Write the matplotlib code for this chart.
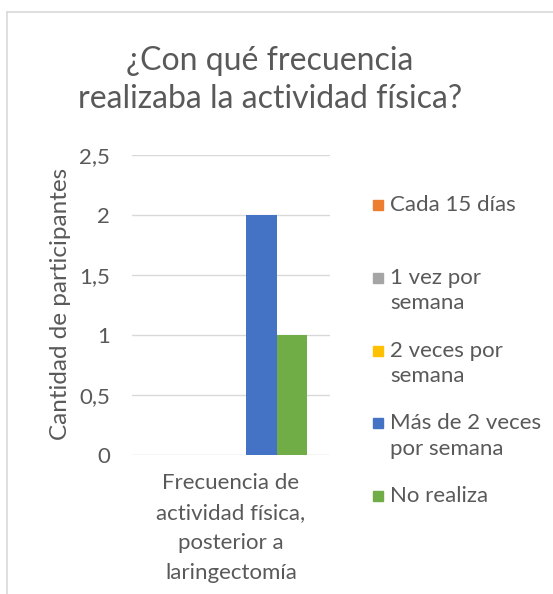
import numpy as np
import matplotlib
matplotlib.use("Agg")
import matplotlib.pyplot as plt
from matplotlib.lines import Line2D
from matplotlib.patches import Rectangle
from matplotlib.ticker import FuncFormatter

plt.rcParams['font.family'] = ['Lato', 'DejaVu Sans']

category = "Frecuencia de\nactividad física,\nposterior a\nlaringectomía"
series = ["Cada 15 días", "1 vez por\nsemana", "2 veces por\nsemana",
          "Más de 2 veces\npor semana", "No realiza"]
values = [0, 0, 0, 2, 1]
colors = ["#ED7D31", "#A5A5A5", "#FFC000", "#4472C4", "#70AD47"]
yticks = [0, 0.5, 1, 1.5, 2, 2.5]

TXT = "#595959"
W, H = 553, 594

fig = plt.figure(figsize=(W / 100, H / 100), dpi=100)
ax = fig.add_axes([132 / W, 1 - 455 / H, 198 / W, 300 / H])

w = 0.154
for i, (v, c) in enumerate(zip(values, colors)):
    ax.bar((i - 2) * w, v, width=w, color=c, edgecolor="none", zorder=3)

ax.set_xlim(-0.5, 0.5)
ax.set_ylim(0, 2.5)
ax.set_yticks(yticks)
ax.yaxis.set_major_formatter(FuncFormatter(lambda v, p: f"{v:g}".replace(".", ",")))
ax.set_xticks([0])
ax.set_xticklabels([category], linespacing=1.62)
ax.tick_params(axis="both", length=0, labelsize=16, labelcolor=TXT)
ax.tick_params(axis="y", pad=16)
ax.tick_params(axis="x", pad=13)
ax.grid(axis="y", color="#D9D9D9", linewidth=1, zorder=0)
for s in ax.spines.values():
    s.set_visible(False)

fig.text(61 / W, 1 - 304 / H, "Cantidad de participantes", rotation=90,
         ha="center", va="center", fontsize=17.5, color=TXT)

fig.text(270 / W, 1 - 80 / H, "¿Con qué frecuencia\nrealizaba la actividad física?",
         ha="center", va="center", fontsize=23, color=TXT, linespacing=1.37)

# legend drawn by hand, one slot per series
for i, (lab, c) in enumerate(zip(series, colors)):
    yc = 205 + i * 72.8
    fig.patches.append(Rectangle((373 / W, 1 - (yc + 5) / H), 10 / W, 10 / H,
                                 transform=fig.transFigure, color=c))
    fig.text(390 / W, 1 - (yc - 10) / H, lab, ha="left", va="top",
             fontsize=16, color=TXT, linespacing=1.33)

# chart area border
fig.lines.append(Line2D([7 / W, 1], [1 - 12 / H, 1 - 12 / H], transform=fig.transFigure,
                        color="#D9D9D9", linewidth=1.2))
fig.lines.append(Line2D([7 / W, 7 / W], [0, 1 - 12 / H], transform=fig.transFigure,
                        color="#D9D9D9", linewidth=1.2))

fig.savefig("out.png", dpi=100, facecolor="white")
